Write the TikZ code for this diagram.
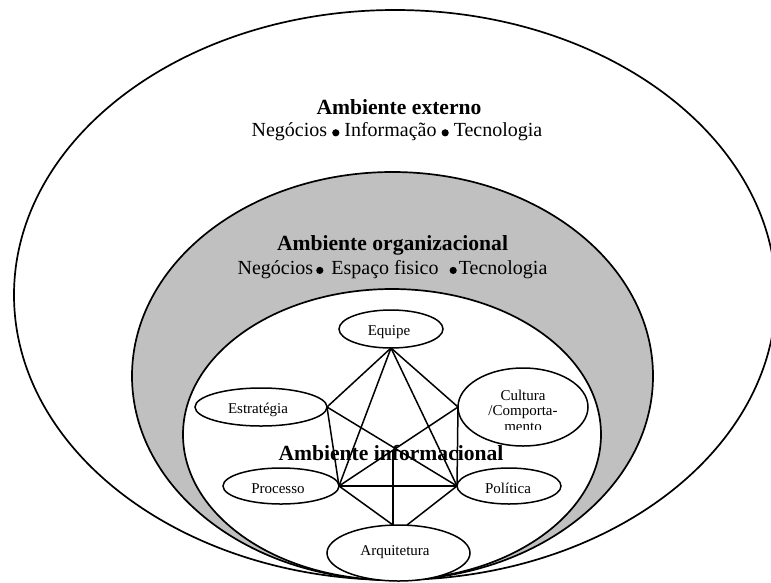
\documentclass[tikz,border=0pt]{standalone}
\usepackage{fontspec}
\setmainfont{Liberation Serif}
\usetikzlibrary{shapes.geometric}
\definecolor{orggray}{RGB}{192,192,192}
% round separator dot used between keywords
\newcommand{\dotmark}{\raisebox{0.3pt}{\tikz\fill[black] (0,0) circle (3.6pt);}}
\begin{document}
\begin{tikzpicture}[x=1pt,y=-1pt,
  ring/.style={ellipse, draw=black, line width=1.7pt, inner sep=0pt, outer sep=0pt},
  item/.style={ellipse, draw=black, line width=1.5pt, fill=white, inner sep=0pt, outer sep=0pt},
  title/.style={font=\bfseries\fontsize{21.6}{24}\selectfont, anchor=base, inner sep=0pt},
  subtitle/.style={font=\fontsize{20}{24}\selectfont, anchor=base, inner sep=0pt},
  lbl/.style={font=\fontsize{15}{16.7}\selectfont, anchor=base, inner sep=0pt},
  link/.style={line width=1.5pt}]
\useasboundingbox (0,0) rectangle (771,582);
\clip (0,0) rectangle (771,582);

% nested environments
\node[ring, fill=white, minimum width=762pt, minimum height=570pt] (ext) at (395,295) {};
\node[ring, fill=orggray, minimum width=521pt, minimum height=408pt] (org) at (392.5,376) {};
\node[ring, fill=white, minimum width=418pt, minimum height=291pt] (inf) at (392,434.5) {};

% headings
\node[title] (extT) at (399,114) {Ambiente externo};
\node[subtitle] (extS) at (397,136.7) {Negócios \dotmark{} Informação \dotmark{} Tecnologia};
\node[title] (orgT) at (392.5,250.7) {Ambiente organizacional};
\node[subtitle] (orgS) at (392.5,274.3) {Negócios\hspace{3pt}\dotmark\hspace{8pt}Espaço fisico\hspace{11pt}\dotmark\hspace{2pt}Tecnologia};
\node[title] (infT) at (391,460) {Ambiente informacional};

% components
\node[item, minimum width=104pt, minimum height=38pt] (eq) at (391,329) {};
\node[lbl] (eqT) at (389,335) {Equipe};
\node[item, minimum width=132pt, minimum height=38pt] (es) at (261,407) {};
\node[lbl] (esT) at (258,413.3) {Estratégia};
\node[item, minimum width=130pt, minimum height=78pt] (cu) at (523,407) {};
\begin{scope}
  \clip (458,380) rectangle (590,429.5);
  \node[lbl] (cuA) at (523,400) {Cultura};
  \node[lbl] (cuB) at (523,415.5) {/Comporta-};
  \node[lbl] (cuC) at (523,431) {mento};
\end{scope}
\node[item, minimum width=116pt, minimum height=36pt] (pr) at (281,486) {};
\node[lbl] (prT) at (278,493) {Processo};
\node[item, minimum width=104pt, minimum height=36pt] (po) at (509,486) {};
\node[lbl] (poT) at (508,493) {Política};
\node[item, minimum width=143pt, minimum height=56pt] (ar) at (398.5,553) {};
\node[lbl] (arT) at (395,555) {Arquitetura};

% connections
\coordinate (hub) at (393,451);
\coordinate (arL) at ([xshift=-5.5pt]ar.north);
\coordinate (arR) at ([xshift=8.5pt]ar.north);
\draw[link] (eq.south) -- (es.east);
\draw[link] (eq.south) -- (cu.west);
\draw[link] (eq.south) -- (pr.east);
\draw[link] (eq.south) -- (po.west);
\draw[link] (es.east) -- (pr.east);
\draw[link] (es.east) -- (po.west);
\draw[link] (cu.west) -- (pr.east);
\draw[link] (cu.west) -- (po.west);
\draw[link] (pr.east) -- (po.west);
\draw[link] (pr.east) -- (arL);
\draw[link] (po.west) -- (arR);
\draw[link] (hub) -- (arL);
\end{tikzpicture}
\end{document}
